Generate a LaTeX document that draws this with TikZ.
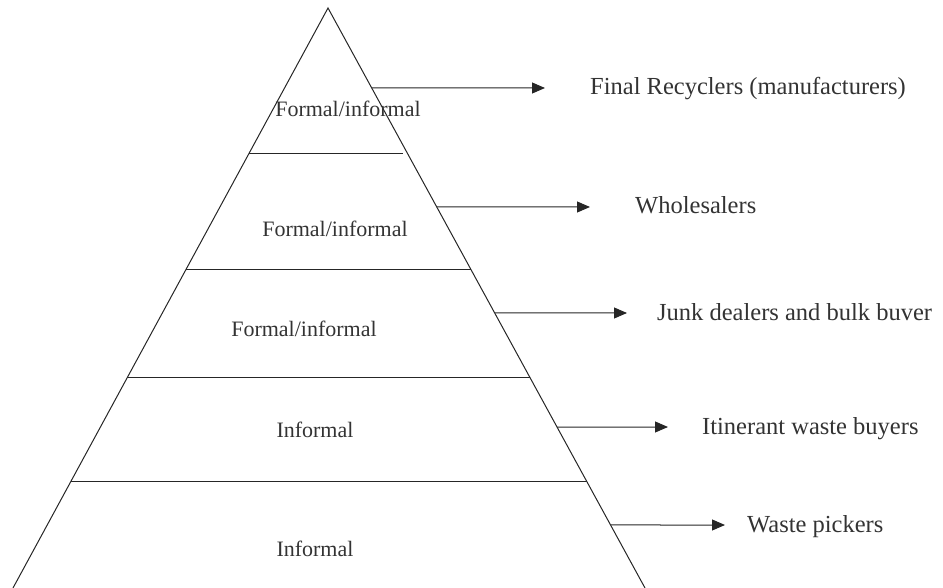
\documentclass[tikz,border=0pt]{standalone}
\usepackage{fontspec}
\setmainfont{Liberation Serif}
\usepackage{tikz}
\usetikzlibrary{calc, arrows.meta}

\begin{document}
\begin{tikzpicture}[x=1pt, y=-1pt,
    tier/.style={font=\fontsize{22}{26}\selectfont, text=black!80, inner sep=0pt, anchor=base},
    buyer/.style={font=\fontsize{24.5}{29}\selectfont, text=black!80, inner sep=0pt, anchor=base west},
    flow/.style={-{Triangle[length=13pt, width=11pt]}, line width=1pt, black!85}]
    \useasboundingbox (0,0) rectangle (943,588);
    \coordinate (apex) at (328,8);
    \coordinate (bl) at (13,588);
    \coordinate (br) at (645,588);
    \draw[line width=1pt, black!85] (bl) -- (apex) -- (br);
    % tiers of the pyramid
    \foreach \y/\s in {154/5pt, 270/0pt, 378/0pt, 482/0pt} {
        \draw[line width=1pt, black!85, shorten >=\s] ($(apex)!{(\y-8)/580}!(bl)$) -- ($(apex)!{(\y-8)/580}!(br)$);
    }
    \node[tier] (f1) at (348,117) {Formal/informal};
    \node[tier] (f2) at (335,237) {Formal/informal};
    \node[tier] (f3) at (304,337) {Formal/informal};
    \node[tier] (i1) at (315,437) {Informal};
    \node[tier] (i2) at (315,556) {Informal};
    % who buys from each tier
    \foreach \n/\y/\tip/\lx/\txt in {1/88/545/590/{Final Recyclers (manufacturers)},
                                     2/207/590/635/{Wholesalers},
                                     3/313/627/657/{Junk dealers and bulk buver},
                                     4/427/668/702/{Itinerant waste buyers},
                                     5/525/725/747/{Waste pickers}} {
        \coordinate (s\n) at ($(apex)!{(\y-8)/580}!(br)$);
        \coordinate (t\n) at (\tip,\y);
        \node[buyer] (b\n) at (\lx,\y+7) {\txt};
        \draw[flow] (s\n) -- (t\n);
    }
\end{tikzpicture}
\end{document}
